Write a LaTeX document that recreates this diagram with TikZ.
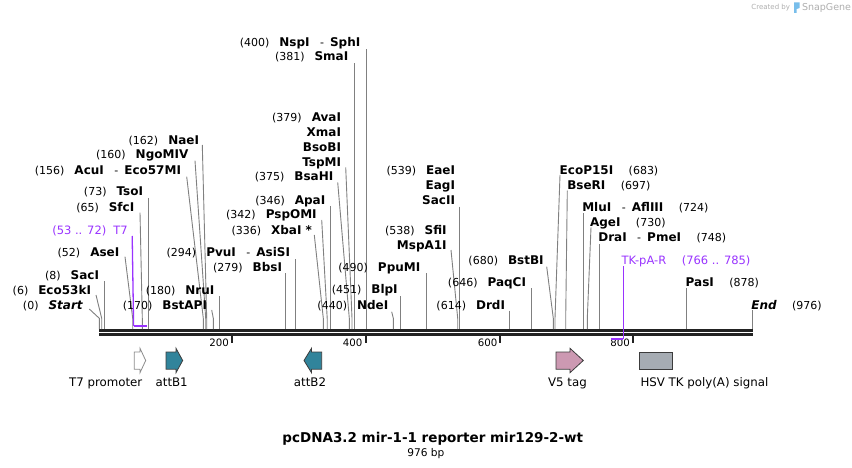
\documentclass[tikz,border=0pt]{standalone}
\usepackage{fontspec}
\setmainfont{DejaVu Sans}[BoldFont={DejaVu Sans Bold},ItalicFont={DejaVu Sans Oblique},BoldItalicFont={DejaVu Sans Bold Oblique}]
\definecolor{purp}{RGB}{153,51,255}
\definecolor{tealf}{RGB}{49,132,155}
\definecolor{pinkf}{RGB}{204,153,178}
\definecolor{grayf}{RGB}{166,172,179}
\definecolor{lineg}{RGB}{128,128,128}
\definecolor{bbc}{RGB}{34,34,34}
\definecolor{wmark}{RGB}{175,175,175}
\definecolor{wlogo}{RGB}{120,190,235}
\newcommand\lnum[1]{{\fontsize{11}{13}\selectfont #1}}
\newcommand\lname[1]{{\fontsize{12}{14}\selectfont\bfseries #1}}
\newcommand\lpurp[1]{{\fontsize{11.5}{13}\selectfont #1}}
\newcommand\lsep{\hspace{10pt}}
\newcommand\rsep{\hspace{15.5pt}}
\newcommand\enzhy{\hspace{10.5pt}{\fontsize{11}{13}\selectfont -}\hspace{6pt}}
% left label: name, ink right x, centre y, text
\newcommand\LL[4]{\node[lab,anchor=base east] (#1) at (#2+1,#3+4.3) {#4};}
% right label: name, ink left x, centre y, text
\newcommand\RL[4]{\node[lab,anchor=base west] (#1) at (#2-1,#3+4.3) {#4};}
% connector: name, start x, start y, site x
\newcommand\CN[4]{\coordinate (#1a) at (#2,#3);\coordinate (#1b) at (#4,318.3);\coordinate (#1c) at (#4,329);\draw[cline] (#1a) -- (#1b) -- (#1c);}
\begin{document}
\begin{tikzpicture}[x=1pt,y=-1pt,
  lab/.style={inner sep=0pt,outer sep=0pt},
  cline/.style={draw=lineg,line width=0.9pt},
  pline/.style={draw=purp,line width=1.3pt},
  featlab/.style={inner sep=0pt,font=\fontsize{11.8}{14}\selectfont},
  ticklab/.style={inner sep=0pt,anchor=base east,font=\fontsize{10.2}{12}\selectfont},
  tickmark/.style={draw=bbc,line width=1.7pt},
  feat/.style={draw={rgb,255:red,60;green,60;blue,60},line width=0.8pt}]
\useasboundingbox (0,0) rectangle (852,468);
\fill[white] (0,0) rectangle (852,468);

% watermark
\node[lab,anchor=base east,text=wmark,font=\fontsize{7}{8}\selectfont] (wm1) at (790,10) {Created by};
\fill[wlogo] (794,2.5) rectangle (796.5,13) (796.5,2.5) -- (799.5,2.5) -- (799.5,8) -- (796.5,9) -- cycle;
\node[lab,anchor=base west,text=wmark,font=\fontsize{9.5}{10}\selectfont] (wm2) at (802,10.5) {SnapGene};

% backbone
\draw[bbc,line width=2.7pt] (99,330.4) -- (752.7,330.4);
\draw[bbc,line width=2.7pt] (99,334.4) -- (752.7,334.4);

% ticks
\draw[tickmark] (232.3,335.7) -- (232.3,342.7);
\draw[tickmark] (366,335.7) -- (366,342.7);
\draw[tickmark] (500,335.7) -- (500,342.7);
\draw[tickmark] (632.7,335.7) -- (632.7,342.7);
\node[ticklab] (t200) at (229,346) {200};
\node[ticklab] (t400) at (362.5,346) {400};
\node[ticklab] (t600) at (497.5,346) {600};
\node[ticklab] (t800) at (630,346) {800};

% left-side enzyme labels
\LL{Lstart}{81.7}{305}{\lnum{(0)}\lsep\lname{\itshape Start}}
\CN{Cstart}{89.3}{309}{99.3}
\LL{Leco}{90}{290}{\lnum{(6)}\lsep\lname{Eco53kI}}
\CN{Ceco}{96}{295}{101.7}
\LL{Lsac}{98}{275}{\lnum{(8)}\lsep\lname{SacI}}
\CN{Csac}{104.3}{281}{104.3}
\LL{Lase}{118.3}{251.7}{\lnum{(52)}\lsep\lname{AseI}}
\CN{Case}{125}{256.7}{132.7}
\LL{Lsfc}{133.3}{207.3}{\lnum{(65)}\lsep\lname{SfcI}}
\CN{Csfc}{140}{212.7}{142.3}
\LL{Ltso}{142}{191.7}{\lnum{(73)}\lsep\lname{TsoI}}
\CN{Ctso}{148.3}{198}{148.3}
\LL{Lacu}{180}{170}{\lnum{(156)}\lsep\lname{AcuI}\enzhy\lname{Eco57MI}}
\CN{Cacu}{186.7}{176.7}{203.3}
\LL{Lngo}{187.3}{154.7}{\lnum{(160)}\lsep\lname{NgoMIV}}
\CN{Cngo}{195}{160.7}{205.7}
\LL{Lnae}{198}{140.7}{\lnum{(162)}\lsep\lname{NaeI}}
\CN{Cnae}{202.3}{145}{206.7}
\LL{Lbstapi}{206}{305}{\lnum{(170)}\lsep\lname{BstAPI}}
\CN{Cbstapi}{211.7}{310}{213.3}
\LL{Lnru}{213.3}{290}{\lnum{(180)}\lsep\lname{NruI}}
\CN{Cnru}{219.3}{296}{219.3}
\LL{Lpvu}{289}{251.7}{\lnum{(294)}\lsep\lname{PvuI}\enzhy\lname{AsiSI}}
\CN{Cpvu}{295.7}{259.3}{295.7}
\LL{Lbbs}{281}{266.7}{\lnum{(279)}\lsep\lname{BbsI}}
\CN{Cbbs}{285.7}{273.3}{285.7}
\LL{Lxba}{311}{230}{\lnum{(336)}\lsep\lname{XbaI *}}
\CN{Cxba}{314.3}{235}{323.3}
\LL{Lpsp}{315.7}{214.3}{\lnum{(342)}\lsep\lname{PspOMI}}
\CN{Cpsp}{321.7}{220}{327.2}
\LL{Lapa}{324.3}{200}{\lnum{(346)}\lsep\lname{ApaI}}
\CN{Capa}{330.3}{206}{330.3}
\LL{Lbsahi}{332.3}{176.7}{\lnum{(375)}\lsep\lname{BsaHI}}
\CN{Cbsahi}{337.7}{182.3}{349.3}
\LL{Lava}{340}{117.3}{\lnum{(379)}\lsep\lname{AvaI}}
\LL{Lxma}{340}{132}{\lname{XmaI}}
\LL{Lbsobi}{340}{147}{\lname{BsoBI}}
\LL{Ltspmi}{340}{162}{\lname{TspMI}}
\CN{Cava}{345.7}{167.3}{352}
\LL{Lsma}{347.3}{56.7}{\lnum{(381)}\lsep\lname{SmaI}}
\CN{Csma}{354.3}{63.3}{354.3}
\LL{Lnsp}{359.3}{42.3}{\lnum{(400)}\lsep\lname{NspI}\enzhy\lname{SphI}}
\CN{Cnsp}{366.7}{49.3}{366.7}
\LL{Lnde}{387.3}{305}{\lnum{(440)}\lsep\lname{NdeI}}
\CN{Cnde}{391.7}{311.7}{393.3}
\LL{Lblp}{396.7}{289.3}{\lnum{(451)}\lsep\lname{BlpI}}
\CN{Cblp}{400.3}{296}{400.3}
\LL{Lppu}{419.3}{266.7}{\lnum{(490)}\lsep\lname{PpuMI}}
\CN{Cppu}{426.7}{273.3}{426.7}
\LL{Lsfi}{445.7}{230}{\lnum{(538)}\lsep\lname{SfiI}}
\LL{Lmsp}{445.7}{245}{\lname{MspA1I}}
\CN{Csfi}{451}{250}{457.7}
\LL{Leae}{454}{170}{\lnum{(539)}\lsep\lname{EaeI}}
\LL{Leag}{454}{185}{\lname{EagI}}
\LL{Lsacii}{454}{200}{\lname{SacII}}
\CN{Ceae}{459.3}{206.7}{459.3}
\LL{Ldrd}{504}{305}{\lnum{(614)}\lsep\lname{DrdI}}
\CN{Cdrd}{509.3}{310.7}{509.3}
\LL{Lpaq}{525}{282.3}{\lnum{(646)}\lsep\lname{PaqCI}}
\CN{Cpaq}{531.7}{288.3}{531.7}
\LL{Lbstbi}{542.7}{260}{\lnum{(680)}\lsep\lname{BstBI}}
\CN{Cbstbi}{546.7}{266.7}{553.3}

% right-side enzyme labels
\RL{Lecop}{560.7}{170}{\lname{EcoP15I}\rsep\lnum{(683)}}
\CN{Cecop}{560}{175}{555}
\RL{Lbser}{568.3}{185}{\lname{BseRI}\rsep\lnum{(697)}}
\CN{Cbser}{567.3}{190.7}{565.7}
\RL{Lmlu}{583.3}{207.3}{\lname{MluI}\enzhy\lname{AflIII}\rsep\lnum{(724)}}
\CN{Cmlu}{583.3}{213.3}{583.3}
\RL{Lage}{591}{222.3}{\lname{AgeI}\rsep\lnum{(730)}}
\CN{Cage}{591}{227.3}{587.3}
\RL{Ldra}{599.3}{237.3}{\lname{DraI}\enzhy\lname{PmeI}\rsep\lnum{(748)}}
\CN{Cdra}{599.3}{244}{599.3}
\RL{Lpas}{686.7}{282.3}{\lname{PasI}\rsep\lnum{(878)}}
\CN{Cpas}{686.7}{288.3}{686.7}
\RL{Lend}{752.3}{305}{\lname{\itshape End}\rsep\lnum{(976)}}
\CN{Cend}{752.7}{310}{752.7}

% primers (purple)
\LL{Lt7}{126.7}{230}{\color{purp}\lpurp{(53 .. 72)}\hspace{7pt}\lpurp{T7}}
\coordinate (T7a) at (132.2,236);
\coordinate (T7b) at (133.6,325.8);
\coordinate (T7c) at (146.7,325.8);
\draw[pline] (T7a) -- (T7b);
\draw[purp,line width=1.8pt] (T7b) -- (T7c);
\RL{Ltk}{622.7}{260}{\color{purp}\lpurp{TK-pA-R}\rsep\lpurp{(766 .. 785)}}
\coordinate (TKa) at (623.3,266);
\coordinate (TKb) at (623.3,339.2);
\coordinate (TKc) at (610.7,339.2);
\draw[pline] (TKa) -- (TKb);
\draw[purp,line width=1.8pt] (TKb) -- (TKc);

% features
\draw[draw={rgb,255:red,140;green,140;blue,140},line width=0.8pt,fill=white]
  (134.3,352) -- (140,352) -- (140,348.3) -- (145.7,360.5) -- (140,372.7) -- (140,369.2) -- (134.3,369.2) -- cycle;
\draw[feat,fill=tealf]
  (166,352) -- (176,352) -- (176,348.3) -- (182.7,360.5) -- (176,372.7) -- (176,369.2) -- (166,369.2) -- cycle;
\draw[feat,fill=tealf]
  (321.7,352) -- (311.5,352) -- (311.5,348.3) -- (304,360.5) -- (311.5,372.7) -- (311.5,369.2) -- (321.7,369.2) -- cycle;
\draw[feat,fill=pinkf]
  (556,352) -- (570,352) -- (570,348.3) -- (583.3,360.5) -- (570,372.7) -- (570,369.2) -- (556,369.2) -- cycle;
\draw[feat,fill=grayf] (639.3,352) rectangle (672.7,369.2);

\node[featlab,anchor=base east] (fT7) at (142.5,386) {T7 promoter};
\node[featlab,anchor=base] (fB1) at (171.7,386) {attB1};
\node[featlab,anchor=base] (fB2) at (310,386) {attB2};
\node[featlab,anchor=base] (fV5) at (567.5,386) {V5 tag};
\node[featlab,anchor=base west] (fHSV) at (640.3,386) {HSV TK poly(A) signal};

% title
\node[lab,anchor=base,font=\fontsize{13.5}{16}\selectfont\bfseries] (title) at (432.8,442) {pcDNA3.2 mir-1-1 reporter mir129-2-wt};
\node[lab,anchor=base,font=\fontsize{10.6}{12}\selectfont] (size) at (425.8,456) {976 bp};
\end{tikzpicture}
\end{document}
